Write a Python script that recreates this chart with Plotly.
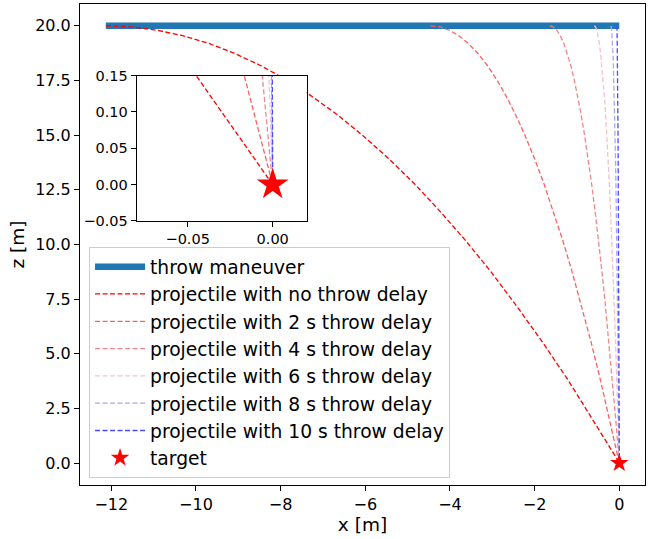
import plotly.graph_objects as go

# ---- data ----
throw_x = [-12.13, 0.0]
throw_z = [20.0, 20.0]

# common heights along the trajectories (m)
traj_z = [20.00, 19.95, 19.80, 19.55, 19.20, 18.75, 18.20, 17.55, 16.80, 15.95,
          15.00, 13.95, 12.80, 11.55, 10.20, 8.75, 7.20, 5.55, 3.80, 1.95, 0.40, 0.00]

x_delay0 = [-12.13, -11.52, -10.92, -10.31, -9.70, -9.10, -8.49, -7.88, -7.28, -6.67,
            -6.07, -5.46, -4.85, -4.25, -3.64, -3.03, -2.43, -1.82, -1.21, -0.61, -0.12, 0.0]
x_delay2 = [-4.46, -4.237, -4.014, -3.791, -3.568, -3.345, -3.122, -2.899, -2.676, -2.453,
            -2.23, -2.007, -1.784, -1.561, -1.338, -1.115, -0.892, -0.669, -0.446, -0.223, -0.0446, 0.0]
x_delay4 = [-1.64, -1.558, -1.476, -1.394, -1.312, -1.23, -1.148, -1.066, -0.984, -0.902,
            -0.82, -0.738, -0.656, -0.574, -0.492, -0.41, -0.328, -0.246, -0.164, -0.082, -0.0164, 0.0]
x_delay6 = [-0.59, -0.5605, -0.531, -0.5015, -0.472, -0.4425, -0.413, -0.3835, -0.354, -0.3245,
            -0.295, -0.2655, -0.236, -0.2065, -0.177, -0.1475, -0.118, -0.0885, -0.059, -0.0295, -0.0059, 0.0]
x_delay8 = [-0.20, -0.19, -0.18, -0.17, -0.16, -0.15, -0.14, -0.13, -0.12, -0.11,
            -0.10, -0.09, -0.08, -0.07, -0.06, -0.05, -0.04, -0.03, -0.02, -0.01, -0.002, 0.0]
x_delay10 = [-0.06, -0.057, -0.054, -0.051, -0.048, -0.045, -0.042, -0.039, -0.036, -0.033,
             -0.030, -0.027, -0.024, -0.021, -0.018, -0.015, -0.012, -0.009, -0.006, -0.003, -0.0006, 0.0]

traj_names = ["projectile with no throw delay", "projectile with 2 s throw delay",
              "projectile with 4 s throw delay", "projectile with 6 s throw delay",
              "projectile with 8 s throw delay", "projectile with 10 s throw delay"]
traj_xs = [x_delay0, x_delay2, x_delay4, x_delay6, x_delay8, x_delay10]
traj_colors = ["#ff0000", "#ff6060", "#f08888", "#f4c2c8", "#a8a8f2", "#4a4aff"]

target_x = [0.0]
target_z = [0.0]

FONT = "DejaVu Sans"

fig = go.Figure()

fig.add_trace(go.Scatter(x=throw_x, y=throw_z, mode="lines", name="throw maneuver",
                         line=dict(color="#1f77b4", width=6.5)))
for nm, xs, c in zip(traj_names, traj_xs, traj_colors):
    fig.add_trace(go.Scatter(x=xs, y=traj_z, mode="lines", name=nm,
                             line=dict(color=c, width=1.3, dash="5px,2.5px")))
fig.add_trace(go.Scatter(x=target_x, y=target_z, mode="markers", name="target",
                         marker=dict(symbol="star", color="#ff0000", size=14, line=dict(width=0))))

# inset traces
for xs, c in zip(traj_xs, traj_colors):
    fig.add_trace(go.Scatter(x=xs, y=traj_z, mode="lines", showlegend=False,
                             line=dict(color=c, width=1.3, dash="5px,2.5px"),
                             xaxis="x2", yaxis="y2"))
fig.add_trace(go.Scatter(x=target_x, y=target_z, mode="markers", showlegend=False,
                         marker=dict(symbol="star", color="#ff0000", size=24, line=dict(width=0)),
                         xaxis="x2", yaxis="y2"))

axis_common = dict(showgrid=False, zeroline=False, showline=True, linecolor="black",
                   linewidth=1, mirror=True, ticks="outside", ticklen=5, tickwidth=1,
                   tickcolor="black", automargin=False)

fig.update_layout(
    width=657, height=539,
    margin=dict(l=80, r=12, t=4, b=54),
    paper_bgcolor="white", plot_bgcolor="white",
    font=dict(family=FONT, color="black", size=16),
    xaxis=dict(domain=[0, 1], range=[-12.74, 0.607], tickvals=[-12, -10, -8, -6, -4, -2, 0],
               tickfont=dict(size=16), title=dict(text="x [m]", font=dict(size=18.5), standoff=3),
               **axis_common),
    yaxis=dict(domain=[0, 1], range=[-1.0, 21.0], dtick=2.5, tickformat=".1f",
               tickfont=dict(size=16), title=dict(text="z [m]", font=dict(size=18.5), standoff=5),
               **axis_common),
    xaxis2=dict(domain=[0.1004, 0.4012], range=[-0.08, 0.02], tickvals=[-0.05, 0.0],
                tickformat=".2f", tickfont=dict(size=14.5), anchor="y2", **axis_common),
    yaxis2=dict(domain=[0.549, 0.851], range=[-0.05, 0.15], tickvals=[-0.05, 0, 0.05, 0.10, 0.15],
                tickformat=".2f", tickfont=dict(size=14.5), anchor="x2", **axis_common),
    legend=dict(x=0.016, y=0.4948, xanchor="left", yanchor="top",
                bgcolor="rgba(255,255,255,0.8)", bordercolor="#cccccc", borderwidth=1,
                font=dict(size=18.7, family=FONT), itemwidth=50, traceorder="normal"),
    showlegend=True,
)

fig.write_html("out.html")
